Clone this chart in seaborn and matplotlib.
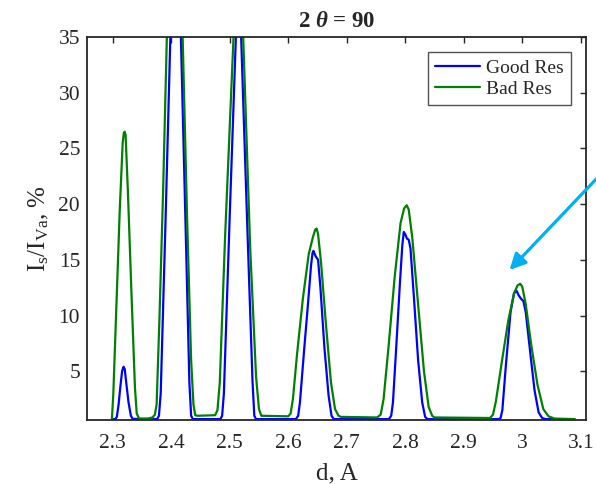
import matplotlib
matplotlib.use("Agg")
import matplotlib.pyplot as plt
import seaborn as sns
import pandas as pd

# ---- data ----
good_d = [2.300, 2.3045, 2.307, 2.310, 2.313, 2.316, 2.3185, 2.3205, 2.323, 2.327, 2.331, 2.334,
          2.376, 2.379, 2.382, 2.390, 2.398, 2.404, 2.4075, 2.411, 2.417, 2.425, 2.431, 2.434, 2.437,
          2.484, 2.487, 2.490, 2.500, 2.5105, 2.5150, 2.5195, 2.530, 2.539, 2.542, 2.545,
          2.613, 2.617, 2.620, 2.627, 2.634, 2.639, 2.6415, 2.643, 2.647, 2.651, 2.655, 2.662, 2.669, 2.674, 2.678,
          2.772, 2.776, 2.779, 2.785, 2.791, 2.795, 2.7975, 2.800, 2.803, 2.806, 2.809, 2.815, 2.822, 2.829, 2.834, 2.838,
          2.960, 2.963, 2.966, 2.972, 2.980, 2.986, 2.9905, 2.994, 2.998, 3.002, 3.006, 3.013, 3.021, 3.028, 3.034, 3.040, 3.080]
good_i = [0.70, 0.70, 0.90, 2.00, 3.60, 5.00, 5.40, 5.20, 4.00, 2.20, 1.00, 0.72,
          0.70, 1.00, 3.00, 18.0, 34.0, 46.0, 50.0, 46.0, 34.0, 17.0, 4.00, 1.00, 0.70,
          0.70, 1.00, 3.00, 19.0, 35.0, 43.0, 35.0, 18.0, 4.00, 1.00, 0.70,
          0.70, 1.00, 2.20, 6.80, 11.2, 14.5, 15.6, 15.8, 15.3, 15.0, 12.5, 7.00, 2.80, 1.00, 0.70,
          0.70, 1.00, 2.20, 7.50, 13.0, 16.3, 17.5, 17.3, 16.9, 16.8, 16.0, 11.5, 6.00, 2.20, 0.90, 0.70,
          0.70, 0.80, 1.50, 5.50, 10.3, 12.0, 12.2, 11.8, 11.5, 11.3, 10.3, 7.00, 3.30, 1.30, 0.80, 0.70, 0.70]

bad_d = [2.2986, 2.301, 2.306, 2.312, 2.317, 2.319, 2.3205, 2.322, 2.326, 2.332, 2.338, 2.341, 2.345, 2.360, 2.368,
         2.372, 2.375, 2.380, 2.386, 2.3925, 2.400, 2.406, 2.409, 2.414, 2.4195, 2.427, 2.434, 2.438, 2.441, 2.445,
         2.475, 2.479, 2.483, 2.492, 2.5065, 2.512, 2.5165, 2.520, 2.523, 2.535, 2.545, 2.550, 2.554,
         2.600, 2.604, 2.608, 2.615, 2.625, 2.635, 2.642, 2.646, 2.6485, 2.651, 2.656, 2.664, 2.673, 2.680, 2.686, 2.690,
         2.752, 2.758, 2.763, 2.772, 2.782, 2.792, 2.798, 2.8025, 2.806, 2.812, 2.822, 2.832, 2.840, 2.846, 2.850,
         2.945, 2.950, 2.955, 2.965, 2.976, 2.986, 2.992, 2.9965, 3.000, 3.006, 3.015, 3.026, 3.036, 3.045, 3.055, 3.090]
bad_i = [0.70, 3.00, 10.5, 19.5, 25.5, 26.4, 26.5, 26.2, 21.0, 12.0, 3.50, 1.20, 0.75, 0.75, 0.85,
         1.10, 2.00, 10.0, 21.0, 35.0, 48.0, 54.0, 54.0, 46.0, 35.0, 19.0, 6.00, 2.00, 1.05, 1.00,
         1.05, 1.50, 4.00, 17.0, 35.0, 42.0, 44.0, 40.0, 35.0, 16.0, 4.50, 1.60, 1.00,
         0.95, 1.20, 2.50, 6.50, 11.5, 15.5, 17.0, 17.7, 17.8, 17.3, 14.8, 9.50, 4.00, 1.60, 1.00, 0.90,
         0.85, 1.10, 2.50, 7.50, 13.5, 18.3, 19.6, 19.9, 19.5, 17.0, 11.0, 5.00, 1.80, 1.00, 0.85,
         0.80, 1.10, 2.30, 5.80, 9.50, 12.0, 12.7, 12.85, 12.6, 11.0, 7.50, 3.80, 1.60, 0.95, 0.75, 0.70]

series_names = ["Good Res", "Bad Res"]
series_colors = ["#0000FF", "#008000"]
x_ticks = [2.3, 2.4, 2.5, 2.6, 2.7, 2.8, 2.9, 3.0, 3.1]
x_tick_labels = ["2.3", "2.4", "2.5", "2.6", "2.7", "2.8", "2.9", "3", "3.1"]
y_ticks = [5, 10, 15, 20, 25, 30, 35]

df = pd.concat([
    pd.DataFrame({"d": good_d, "I": good_i, "series": series_names[0]}),
    pd.DataFrame({"d": bad_d, "I": bad_i, "series": series_names[1]}),
], ignore_index=True)

# ---- styling ----
sns.set_theme(style="white")
plt.rcParams["font.family"] = ["Liberation Serif", "DejaVu Serif"]
plt.rcParams["mathtext.fontset"] = "custom"
plt.rcParams["mathtext.rm"] = "Liberation Serif"
plt.rcParams["mathtext.it"] = "Liberation Serif:italic:bold"
plt.rcParams["mathtext.bf"] = "Liberation Serif:bold"

fig = plt.figure(figsize=(5.96, 4.84), dpi=100)
ax = fig.add_axes([87 / 596, 1 - 420 / 484, (586 - 87) / 596, (420 - 37) / 484])

sns.lineplot(data=df, x="d", y="I", hue="series", hue_order=series_names,
             palette=dict(zip(series_names, series_colors)),
             estimator=None, sort=False, linewidth=1.6, ax=ax)

ax.set_xlim(2.256, 3.109)
ax.set_ylim(0.62, 35)
ax.set_xticks(x_ticks)
ax.set_xticklabels(x_tick_labels)
ax.set_yticks(y_ticks)

for s in ax.spines.values():
    s.set_visible(True)
    s.set_color("#262626")
    s.set_linewidth(1.3)
ax.tick_params(direction="in", length=4.5, width=1.0, color="#262626",
               top=True, right=True, labelsize=15.5, labelcolor="#262626")
ax.tick_params(axis="x", pad=10)
ax.tick_params(axis="y", pad=5)

ax.set_xlabel("d, A", fontsize=18, color="#262626", labelpad=7)
ax.set_ylabel(r"I$_{\rm s}$/I$_{\rm Va}$, %", fontsize=18, color="#262626", labelpad=5)
ax.set_title(r"2 $\theta$ = 90", fontsize=16.5, fontweight="bold", pad=7)

leg = ax.legend(loc="upper right", fontsize=14, frameon=True, fancybox=False,
                borderpad=0.4, labelspacing=0.15, handlelength=2.3, handletextpad=0.3,
                borderaxespad=0.75)
leg.set_title(None)
leg.get_frame().set_edgecolor("#262626")
leg.get_frame().set_linewidth(1.0)
for h in leg.get_lines():
    h.set_linewidth(1.6)

ax.annotate("", xy=(2.975, 13.9), xycoords="data",
            xytext=(1.008, 0.640), textcoords="figure fraction",
            arrowprops=dict(arrowstyle="-|>", color="#00B0F0", lw=2.3, mutation_scale=24),
            annotation_clip=False)

fig.savefig("out.png", dpi=100)
